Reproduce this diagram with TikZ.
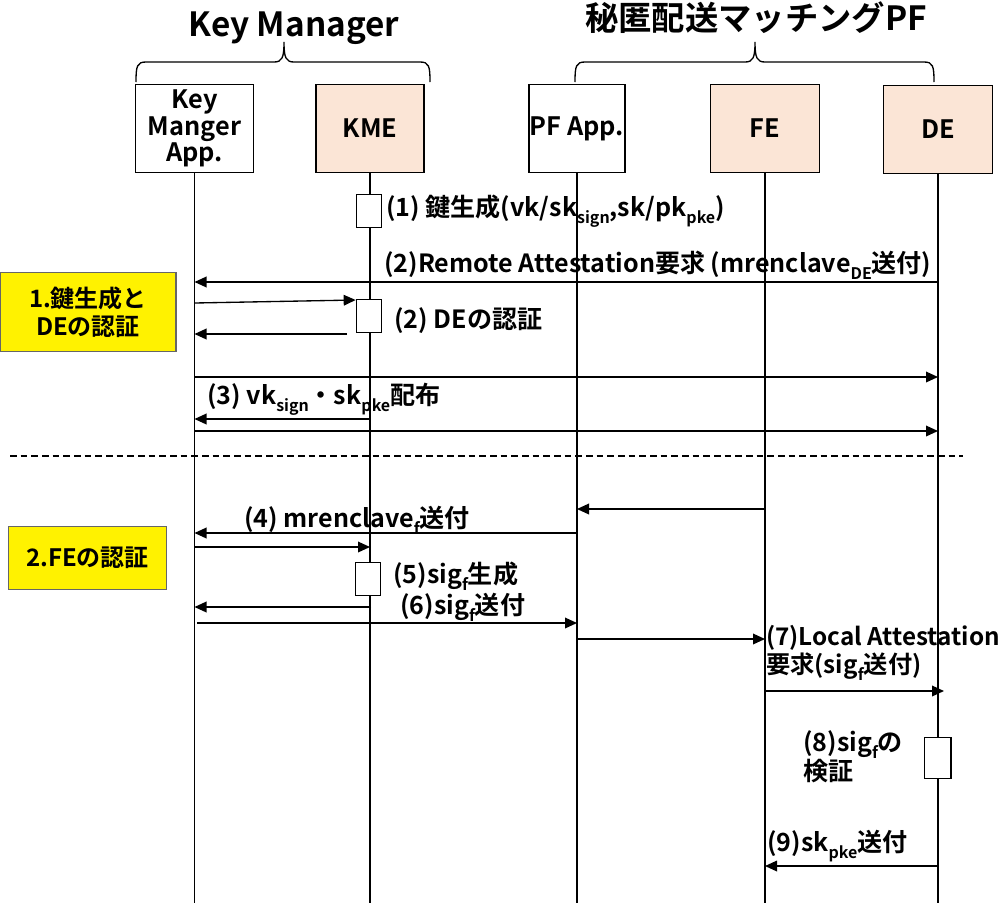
\documentclass[tikz,border=0pt]{standalone}
\usepackage{fontspec}
\setmainfont{Noto Sans CJK JP Bold}
\usetikzlibrary{arrows.meta}
\newcommand\lo[1]{\raisebox{-0.5ex}{\fontsize{12}{12}\selectfont #1}}
\definecolor{peach}{HTML}{FBE5D6}
\begin{document}
\begin{tikzpicture}[x=0.75pt,y=-0.75pt,
  actor/.style={draw,line width=1pt,minimum height=66pt,align=center,font=\fontsize{19}{20}\selectfont,inner sep=0pt},
  life/.style={line width=1pt},
  msg/.style={line width=1pt,-{Triangle[length=9pt,width=8pt]}},
  lbl/.style={anchor=west,inner sep=0pt,font=\fontsize{18.8}{21}\selectfont,align=left},
  act/.style={draw,line width=1pt,fill=white,inner sep=0pt},
  note/.style={draw=black!60,line width=0.8pt,fill=yellow,align=center,font=\fontsize{18}{21}\selectfont,inner sep=0pt},
  ttl/.style={inner sep=0pt,font=\fontsize{25}{28}\selectfont},
  brc/.style={line width=1pt}]
\useasboundingbox (0,0) rectangle (1005,903);
% titles
\node[ttl] (t1) at (294,28) {Key Manager};
\node[ttl] (t2) at (756,18) {秘匿配送マッチングPF};
% braces
\draw[brc] (136,82) .. controls (136,66) and (137,62) .. (146,62) -- (274,62) .. controls (282,62) and (284,58) .. (284,42) .. controls (284,58) and (286,62) .. (294,62) -- (420,62) .. controls (429,62) and (430,66) .. (430,82);
\draw[brc] (575,82) .. controls (575,66) and (576,62) .. (585,62) -- (745,62) .. controls (753,62) and (755,58) .. (755,42) .. controls (755,58) and (757,62) .. (765,62) -- (924,62) .. controls (933,62) and (934,66) .. (934,82);
% actors
\node[actor,minimum width=88.5pt,minimum height=66pt] (kma) at (194.5,128.5) {Key\\Manger\\App.};
\node[actor,fill=peach,minimum width=81pt] (kme) at (370,128.5) {KME};
\node[actor,minimum width=72pt] (pfa) at (577,128.5) {PF App.};
\node[actor,fill=peach,minimum width=82pt] (fe) at (765,128.5) {FE};
\node[actor,fill=peach,minimum width=82pt] (de) at (938,129.5) {DE};
% lifelines
\coordinate (kmaE) at (kma.south |- 0,903);
\coordinate (kmeE) at (kme.south |- 0,903);
\coordinate (pfaE) at (pfa.south |- 0,903);
\coordinate (feE) at (fe.south |- 0,903);
\coordinate (deE) at (de.south |- 0,903);
\draw[life] (kma.south) -- (kmaE);
\draw[life] (kme.south) -- (kmeE);
\draw[life] (pfa.south) -- (pfaE);
\draw[life] (fe.south) -- (feE);
\draw[life] (de.south) -- (deE);
% activation boxes
\node[act,minimum width=19pt,minimum height=25pt] (a1) at (369,211) {};
\node[act,minimum width=19pt,minimum height=25pt] (a2) at (369,316) {};
\node[act,minimum width=19pt,minimum height=25pt] (a3) at (368,579) {};
\node[act,minimum width=20pt,minimum height=31pt] (a4) at (937.5,758) {};
% messages
\node[lbl] (l1) at (386,211) {(1) 鍵生成(vk/sk\lo{sign},sk/pk\lo{pke})};
\draw[msg] (de |- 0,282) -- (kma |- 0,282);
\node[lbl] (l2) at (384,265) {(2)Remote Attestation要求 (mrenclave\lo{DE}送付)};
\draw[msg] (kma |- 0,303) -- (a2.west |- 0,300);
\draw[msg] (347,334) -- (kma |- 0,334);
\node[lbl] (l3) at (394,321) {(2) DEの認証};
\draw[msg] (kma |- 0,377) -- (de |- 0,377);
\node[lbl] (l4) at (207,399) {(3) vk\lo{sign}・sk\lo{pke}配布};
\draw[msg] (kme |- 0,419) -- (kma |- 0,419);
\draw[msg] (kma |- 0,431) -- (de |- 0,431);
% separator
\draw[line width=0.9pt,dash pattern=on 5pt off 3pt] (10,456) -- (963,456);
\draw[msg] (fe |- 0,509) -- (pfa |- 0,509);
\draw[msg] (pfa |- 0,533) -- (kma |- 0,533);
\node[lbl] (l5) at (244,520) {(4) mrenclave\lo{f}送付};
\draw[msg] (kma |- 0,547) -- (kme |- 0,547);
\node[lbl] (l6) at (393,576) {(5)sig\lo{f}生成};
\draw[msg] (371,607) -- (kma |- 0,607);
\node[lbl] (l7) at (400,607) {(6)sig\lo{f}送付};
\draw[msg] (197,623) -- (pfa |- 0,623);
\draw[msg] (pfa |- 0,639) -- (fe |- 0,639);
\node[lbl,font=\fontsize{18.2}{21}\selectfont] (l8) at (766,653) {(7)Local Attestation\\要求(sig\lo{f}送付)};
\draw[msg] (fe |- 0,691) -- (944,691);
\node[lbl] (l9) at (803,757) {(8)sig\lo{f}の\\検証};
\draw[msg] (de |- 0,866) -- (fe |- 0,866);
\node[lbl] (l10) at (767,846) {(9)sk\lo{pke}送付};
% notes
\node[note,minimum width=132pt,minimum height=59pt] (n1) at (88,312) {1.鍵生成と\\DEの認証};
\node[note,minimum width=119pt,minimum height=47pt] (n2) at (87.5,558) {2.FEの認証};
\end{tikzpicture}
\end{document}
